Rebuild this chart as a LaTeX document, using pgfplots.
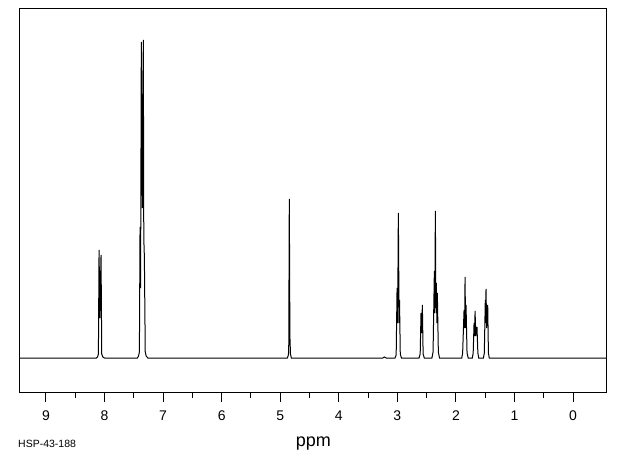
\documentclass[border=0pt]{standalone}
\usepackage{fontspec}
\setmainfont{Liberation Sans}
\usepackage{pgfplots}
\usepackage{pgfplotstable}
\pgfplotsset{compat=1.18}

% 1H NMR spectrum, heights in pixels above the baseline
\pgfplotstableread{
ppm h
9.444 0
8.14 0
8.12 1
8.105 4
8.094 108
8.08 40
8.06 103
8.048 4
8.03 1
8.00 0
7.44 0
7.42 2
7.405 6
7.394 131
7.385 70
7.372 316
7.355 150
7.338 318
7.33 120
7.32 101
7.305 6
7.29 2
7.26 0
4.88 0
4.865 2
4.855 6
4.845 159
4.835 22
4.825 4
4.81 0
3.25 0
3.22 1
3.19 0
3.04 0
3.02 3
3.005 70
2.995 35
2.983 145
2.97 35
2.963 58
2.95 4
2.93 0
2.63 0
2.61 4
2.596 45
2.585 25
2.573 53
2.56 4
2.54 0
2.41 0
2.39 6
2.368 87
2.36 45
2.351 147
2.342 50
2.334 75
2.325 35
2.317 65
2.30 6
2.28 0
1.90 0
1.885 5
1.861 48
1.85 30
1.844 81
1.835 30
1.827 53
1.81 5
1.79 0
1.72 0
1.705 5
1.69 35
1.68 22
1.673 47
1.66 22
1.64 31
1.625 5
1.61 0
1.53 0
1.515 5
1.498 58
1.49 35
1.486 69
1.475 30
1.457 53
1.445 5
1.43 0
-0.575 0
}\spectrum

\begin{document}
\begin{tikzpicture}
\path[use as bounding box] (-20pt,-63pt) rectangle (600pt,392pt);
\begin{axis}[
  scale only axis,
  width=586.7pt, height=383pt,
  x dir=reverse,
  xmin=-0.575, xmax=9.444,
  ymin=-34, ymax=349,
  xtick={0,1,...,9},
  minor xtick={0.5,1.5,...,8.5},
  ytick=\empty,
  xtick pos=left,
  tick align=outside,
  major tick length=10pt,
  minor tick length=6pt,
  tick style={line width=1pt, black},
  axis line style={line width=1pt},
  /pgf/number format/assume math mode=true,
  xticklabel style={font=\fontsize{14}{14}\selectfont, inner sep=0pt, anchor=north, yshift=-9pt},
  xlabel={ppm},
  xlabel style={font=\fontsize{18}{18}\selectfont, inner sep=0pt, anchor=base, at={(0.5,0)}, yshift=-54pt},
]
\addplot[black, line width=1pt, mark=none] table[x=ppm, y=h] {\spectrum};
\end{axis}
\node[anchor=base west, inner sep=0pt, font=\fontsize{10.5}{10.5}\selectfont] at (-2pt,-55pt) {HSP-43-188};
\end{tikzpicture}
\end{document}
